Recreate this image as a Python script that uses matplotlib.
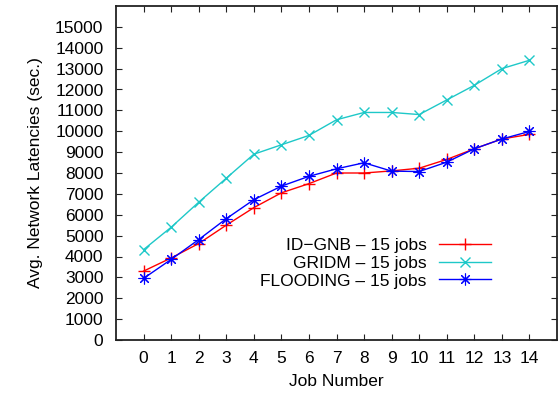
import matplotlib
matplotlib.use("Agg")
import matplotlib.pyplot as plt

plt.rcParams['font.family'] = ['Liberation Sans', 'DejaVu Sans']

jobs = list(range(15))
id_gnb = [3300, 3930, 4620, 5500, 6340, 7050, 7490, 8000, 8000, 8100, 8230, 8650, 9160, 9630, 9850]
gridm = [4330, 5400, 6600, 7750, 8900, 9350, 9800, 10550, 10900, 10900, 10800, 11500, 12200, 13000, 13400]
flooding = [2950, 3860, 4810, 5810, 6720, 7370, 7840, 8200, 8490, 8090, 8070, 8520, 9160, 9630, 9990]
yticks = list(range(0, 15001, 1000))

fs = 12.5
fig = plt.figure(figsize=(5.59, 3.98), dpi=100)
ax = fig.add_axes([116/559, 58/398, 441/559, 334/398])

ax.plot(jobs, id_gnb, color='#ff0000', marker='+', ms=8.5, mew=1.0, lw=1.0, label='ID\u2212GNB \u2013 15 jobs')
ax.plot(jobs, gridm, color='#1ec8c8', marker='x', ms=7.5, mew=1.0, lw=1.0, label='GRIDM \u2013 15 jobs')
ax.plot(jobs, flooding, color='#0000ff', marker=(8, 2, 0), ms=8.5, mew=0.8, lw=1.0, label='FLOODING \u2013 15 jobs')

ax.set_xlim(-1, 15)
ax.set_ylim(0, 16000)
ax.set_xticks(jobs)
ax.set_yticks(yticks)
ax.tick_params(direction='in', top=True, right=True, length=4.5, width=0.8,
               labelsize=fs, color='#222222')
ax.tick_params(axis='x', pad=8)
ax.tick_params(axis='y', pad=9)
for s in ax.spines.values():
    s.set_linewidth(1.3)
    s.set_color('#222222')

ax.set_xlabel('Job Number', fontsize=fs, labelpad=6)
ax.set_ylabel('Avg. Network Latencies (sec.)', fontsize=fs, labelpad=9)

leg = ax.legend(loc='center right', bbox_to_anchor=(0.87, 0.23), frameon=False,
                markerfirst=False, fontsize=fs, handlelength=3.0, handletextpad=0.7,
                labelspacing=0.15, borderpad=0)
for vp in leg._legend_handle_box.get_children():
    vp.align = 'right'

fig.savefig('out.png', dpi=100)
